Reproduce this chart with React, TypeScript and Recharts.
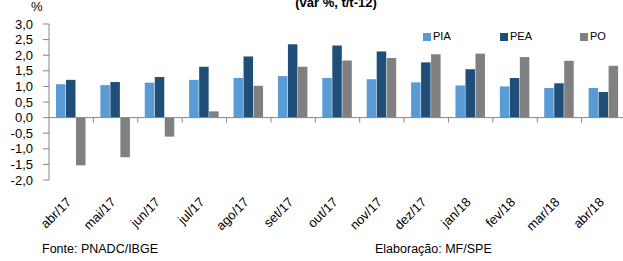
import React from 'react';
import { BarChart, Bar, XAxis, YAxis, ReferenceLine, Legend } from 'recharts';

const categories = ['abr/17', 'mai/17', 'jun/17', 'jul/17', 'ago/17', 'set/17', 'out/17', 'nov/17', 'dez/17', 'jan/18', 'fev/18', 'mar/18', 'abr/18'];
const pia = [1.07, 1.04, 1.12, 1.21, 1.27, 1.33, 1.27, 1.23, 1.13, 1.03, 1.0, 0.95, 0.95];
const pea = [1.21, 1.14, 1.3, 1.63, 1.96, 2.35, 2.31, 2.12, 1.77, 1.55, 1.27, 1.1, 0.82];
const po = [-1.53, -1.27, -0.61, 0.2, 1.02, 1.63, 1.83, 1.91, 2.03, 2.05, 1.94, 1.82, 1.66];
const yTicks = [-2, -1.5, -1, -0.5, 0, 0.5, 1, 1.5, 2, 2.5, 3];

const seriesNames = ['PIA', 'PEA', 'PO'];
const seriesColors = ['#5B9BD5', '#1F4E79', '#808080'];
const legendLefts = [423, 500, 580];

const data = categories.map((c, i) => ({ cat: c, PIA: pia[i], PEA: pea[i], PO: po[i] }));

const fmt = (v: number) => v.toFixed(1).replace('.', ',');

const XTick = (props: any) => {
  const { x, y, payload } = props;
  return (
    <g transform={`translate(${x + 1},${y + 15})`}>
      <text x={0} y={0} textAnchor="end" transform="rotate(-45)" fontSize={13} fill="#000" fontFamily="Liberation Sans, Arial, sans-serif">
        {payload.value}
      </text>
    </g>
  );
};

const ZeroLine = (props: any) => {
  const { x1, y1, x2, y2 } = props;
  const n = categories.length;
  const step = (x2 - x1) / n;
  const marks = [];
  for (let i = 1; i < n; i++) {
    const xx = x1 + i * step;
    marks.push(<line key={i} x1={xx} x2={xx} y1={y1} y2={y1 + 5} stroke="#868686" strokeWidth={1} />);
  }
  return (
    <g>
      <line x1={x1} y1={y1} x2={x2} y2={y2} stroke="#868686" strokeWidth={1} />
      {marks}
    </g>
  );
};

const LegendContent = () => (
  <div style={{ position: 'relative', width: 640, height: 12 }}>
    {seriesNames.map((s, i) => (
      <div key={s} style={{ position: 'absolute', left: legendLefts[i], top: 0, display: 'flex', alignItems: 'center', fontSize: 11, fontFamily: 'Liberation Sans, Arial, sans-serif', color: '#000', lineHeight: '11px' }}>
        <span style={{ display: 'inline-block', width: 8, height: 8, background: seriesColors[i], marginRight: 2 }} />
        <span>{s}</span>
      </div>
    ))}
  </div>
);

export default function App() {
  return (
    <div style={{ position: 'absolute', left: 0, top: 0, width: 623, height: 261, overflow: 'hidden', background: '#fff', fontFamily: 'Liberation Sans, Arial, sans-serif' }}>
      <div style={{ position: 'absolute', left: 0, width: 672, top: -4, textAlign: 'center', fontSize: 13, fontWeight: 'bold', lineHeight: 1, color: '#000' }}>
        (var %, t/t-12)
      </div>
      <div style={{ position: 'absolute', left: 31, top: 0, fontSize: 13, lineHeight: 1, color: '#000' }}>%</div>
      <BarChart width={640} height={261} data={data} margin={{ top: 24, right: 14, bottom: 21, left: 0 }} barSize={9.5} barGap={0.5}>
        <YAxis
          width={49}
          domain={[-2, 3]}
          ticks={yTicks}
          interval={0}
          tickFormatter={fmt}
          axisLine={{ stroke: '#868686' }}
          tickLine={{ stroke: '#868686' }}
          tickSize={6}
          tickMargin={10}
          tick={{ fontSize: 13, fill: '#000', fontFamily: 'Liberation Sans, Arial, sans-serif' }}
        />
        <XAxis dataKey="cat" height={60} axisLine={false} tickLine={false} interval={0} tick={<XTick />} />
        <Legend layout="horizontal" verticalAlign="middle" align="center" wrapperStyle={{ position: 'absolute', top: 31, left: 0, width: 640 }} content={<LegendContent />} />
        {seriesNames.map((s, i) => (
          <Bar key={s} dataKey={s} fill={seriesColors[i]} isAnimationActive={false} />
        ))}
        <ReferenceLine y={0} shape={<ZeroLine />} />
      </BarChart>
      <div style={{ position: 'absolute', left: 42, top: 243, fontSize: 12.5, lineHeight: 1, color: '#000' }}>Fonte: PNADC/IBGE</div>
      <div style={{ position: 'absolute', left: 375, top: 243, fontSize: 12.5, lineHeight: 1, color: '#000' }}>Elaboração: MF/SPE</div>
    </div>
  );
}
